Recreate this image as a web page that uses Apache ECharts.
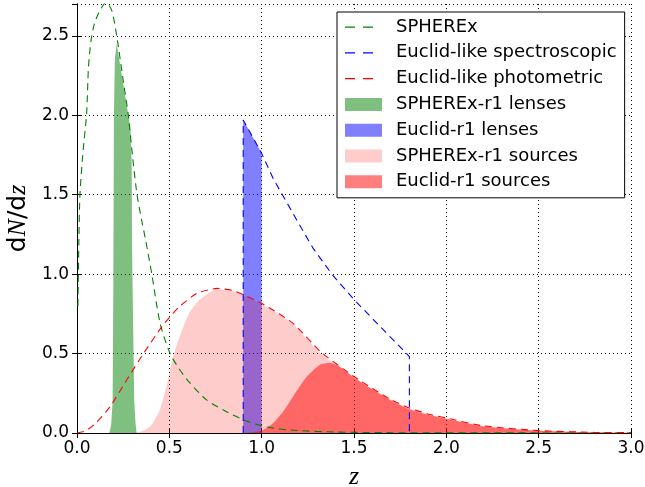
<!DOCTYPE html>
<html>
<head>
<meta charset="utf-8">
<script src="https://cdn.jsdelivr.net/npm/echarts@6/dist/echarts.min.js"></script>
<style>
  html, body { margin: 0; padding: 0; background: #fff; }
  #main { width: 645px; height: 487px; }
</style>
</head>
<body>
<div id="main"></div>
<script>
// dN/dz curves
var sphereZ = [0.005, 0.01, 0.016, 0.031, 0.052, 0.062, 0.076, 0.095, 0.125, 0.157, 0.188, 0.215, 0.25, 0.278, 0.3, 0.325, 0.35, 0.374, 0.405, 0.45, 0.504, 0.55, 0.6, 0.7, 0.8, 0.9, 1.0, 1.1, 1.2, 1.4, 1.7, 2.0, 3.0];
var sphereN = [0.8, 1.2, 1.5, 1.75, 2.01, 2.3, 2.47, 2.58, 2.66, 2.71, 2.66, 2.5, 2.22, 2.0, 1.75, 1.5, 1.34, 1.2, 1.0, 0.69, 0.5, 0.41, 0.33, 0.21, 0.14, 0.084, 0.045, 0.025, 0.015, 0.006, 0.002, 0.001, 0];

var specZ = [0.9, 0.9, 1.0, 1.063, 1.2, 1.28, 1.38, 1.5, 1.6, 1.7, 1.76, 1.8, 1.8];
var specN = [0, 1.97, 1.76, 1.6, 1.32, 1.16, 1.0, 0.84, 0.72, 0.6, 0.53, 0.48, 0];

var photZ = [0, 0.05, 0.1, 0.18, 0.27, 0.36, 0.46, 0.55, 0.65, 0.76, 0.85, 0.9, 1.0, 1.17, 1.32, 1.5, 1.6, 1.7, 1.8, 1.9, 2.0, 2.2, 2.5, 2.8, 3.0];
var photN = [0, 0.015, 0.06, 0.167, 0.335, 0.5, 0.67, 0.79, 0.88, 0.91, 0.895, 0.87, 0.816, 0.69, 0.51, 0.355, 0.28, 0.21, 0.157, 0.12, 0.094, 0.045, 0.015, 0.004, 0.002];

var sphLensZ = [0.175, 0.185, 0.193, 0.197, 0.2, 0.205, 0.215, 0.25, 0.278, 0.29, 0.296, 0.298, 0.3, 0.31, 0.317, 0.323];
var sphLensN = [0, 0.05, 0.2, 1.0, 2.0, 2.35, 2.45, 2.2, 2.0, 1.9, 1.7, 1.2, 1.0, 0.2, 0.06, 0];

var eucLensZ = [0.9, 0.9, 1.0, 1.0];
var eucLensN = [0, 1.97, 1.76, 0];

var sphSrcZ = [0.3, 0.33, 0.36, 0.4, 0.45, 0.49, 0.52, 0.56, 0.61, 0.67, 0.76, 0.85, 0.9, 1.0, 1.17, 1.32, 1.5, 1.6, 1.8, 2.0, 2.2, 2.5, 3.0];
var sphSrcN = [0, 0.004, 0.015, 0.045, 0.15, 0.32, 0.48, 0.62, 0.76, 0.845, 0.905, 0.89, 0.865, 0.81, 0.685, 0.5, 0.35, 0.275, 0.152, 0.09, 0.042, 0.014, 0.002];

var eucSrcZ = [0.92, 1.0, 1.06, 1.12, 1.17, 1.245, 1.316, 1.37, 1.42, 1.5, 1.6, 1.7, 1.8, 1.9, 2.0, 2.2, 2.5, 2.8, 3.0];
var eucSrcN = [0, 0.015, 0.06, 0.14, 0.23, 0.355, 0.43, 0.44, 0.42, 0.35, 0.275, 0.205, 0.15, 0.115, 0.09, 0.043, 0.014, 0.004, 0.002];

function pairs(z, n) {
  return z.map(function (v, i) { return [v, n[i]]; });
}

var chart = echarts.init(document.getElementById('main'), null, { renderer: 'canvas' });

var tickFont = { color: '#000', fontSize: 17, fontFamily: 'DejaVu Sans' };
var black = { color: '#000', width: 1 };
var dotted = { color: '#000', width: 1, type: [1, 3] };
var dash = [7, 5];

function fill(name, data, color, smooth) {
  return {
    name: name, type: 'line', data: data, symbol: 'none', smooth: smooth,
    lineStyle: { width: 0 }, itemStyle: { color: color },
    areaStyle: { color: color, opacity: 1 }
  };
}
function dashed(name, data, color, smooth) {
  return {
    name: name, type: 'line', data: data, symbol: 'none', smooth: smooth,
    itemStyle: { color: color },
    lineStyle: { color: color, width: 1.1, type: dash }
  };
}

// two short dashes, like the matplotlib legend handle (box is 37 x 13)
var dashIcon = 'path://M0,0M37,13M0,6h10v1.2h-10zM18,6h10v1.2h-10z';

var option = {
  animation: false,
  backgroundColor: '#fff',
  grid: { left: 77, right: 14, top: 4, bottom: 54, containLabel: false, outerBoundsMode: 'none' },
  xAxis: [{
    type: 'value', min: 0, max: 3, interval: 0.5,
    axisLine: { lineStyle: black },
    axisTick: { inside: true, length: 5, lineStyle: black },
    axisLabel: Object.assign({ margin: 7, formatter: function (v) { return v.toFixed(1); } }, tickFont),
    splitLine: { show: true, lineStyle: dotted },
    name: 'z', nameLocation: 'middle', nameGap: 31,
    nameTextStyle: { color: '#000', fontSize: 26, fontStyle: 'italic', fontFamily: 'Liberation Serif' }
  }, {
    type: 'value', min: 0, max: 3, interval: 0.5, position: 'top',
    axisLine: { lineStyle: black },
    axisTick: { inside: true, length: 5, lineStyle: black },
    axisLabel: { show: false }, splitLine: { show: false }
  }],
  yAxis: [{
    type: 'value', min: 0, max: 2.7, interval: 0.5,
    axisLine: { show: true, lineStyle: black },
    axisTick: { show: true, inside: true, length: 5, lineStyle: black },
    axisLabel: Object.assign({ margin: 8, showMaxLabel: false, formatter: function (v) { return v > 2.6 ? '' : v.toFixed(1); } }, tickFont),
    splitLine: { show: true, lineStyle: dotted },
    name: '{r|d}{i|N}{r|/d}{i|z}', nameLocation: 'middle', nameRotate: 90, nameGap: 41,
    nameTextStyle: {
      rich: {
        r: { color: '#000', fontSize: 25, fontFamily: 'DejaVu Sans' },
        i: { color: '#000', fontSize: 26, fontStyle: 'italic', fontFamily: 'Liberation Serif' }
      }
    }
  }, {
    type: 'value', min: 0, max: 2.7, interval: 0.5, position: 'right',
    axisLine: { show: true, lineStyle: black },
    axisTick: { show: true, inside: true, length: 5, lineStyle: black },
    axisLabel: { show: false }, splitLine: { show: false }
  }],
  legend: {
    orient: 'vertical', left: 337, top: 12,
    padding: [5, 8, 6, 8], itemGap: 5.8, itemWidth: 37, itemHeight: 13,
    backgroundColor: '#fff', borderColor: '#000', borderWidth: 1, borderRadius: 0,
    itemStyle: { borderWidth: 0 },
    textStyle: { color: '#000', fontSize: 18, fontFamily: 'DejaVu Sans', lineHeight: 20, padding: [0, 0, 0, 9] },
    data: [
      { name: 'SPHEREx', icon: dashIcon },
      { name: 'Euclid-like spectroscopic', icon: dashIcon },
      { name: 'Euclid-like photometric', icon: dashIcon },
      { name: 'SPHEREx-r1 lenses', icon: 'rect' },
      { name: 'Euclid-r1 lenses', icon: 'rect' },
      { name: 'SPHEREx-r1 sources', icon: 'rect' },
      { name: 'Euclid-r1 sources', icon: 'rect' }
    ]
  },
  series: [
    fill('SPHEREx-r1 lenses', pairs(sphLensZ, sphLensN), 'rgba(0,128,0,0.5)', false),
    fill('Euclid-r1 lenses', pairs(eucLensZ, eucLensN), 'rgba(0,0,255,0.5)', false),
    fill('SPHEREx-r1 sources', pairs(sphSrcZ, sphSrcN), 'rgba(255,0,0,0.2)', 0.2),
    fill('Euclid-r1 sources', pairs(eucSrcZ, eucSrcN), 'rgba(255,0,0,0.5)', 0.2),
    dashed('SPHEREx', pairs(sphereZ, sphereN), '#008000', 0.25),
    dashed('Euclid-like spectroscopic', pairs(specZ, specN), '#0000ff', false),
    dashed('Euclid-like photometric', pairs(photZ, photN), '#ff0000', 0.2)
  ]
};

chart.setOption(option);
</script>
</body>
</html>
